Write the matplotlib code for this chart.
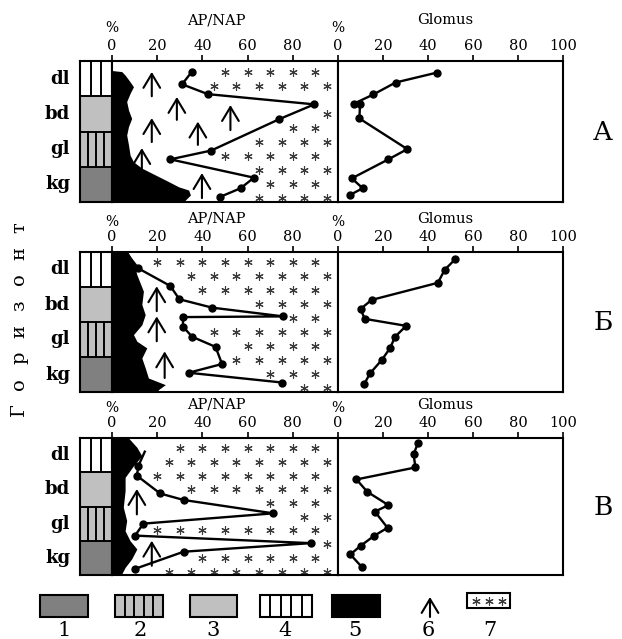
import numpy as np
import matplotlib.pyplot as plt
from matplotlib.patches import Rectangle

plt.rcParams['font.family'] = ['DejaVu Serif']

W, H = 622, 639

horizons = ["dl", "bd", "gl", "kg"]
panel_letters = ["А", "Б", "В"]
ap_ticks = [0, 20, 40, 60, 80]
glomus_ticks = [0, 20, 40, 60, 80, 100]

# panel А
a_ap_depth = [0.30, 0.66, 0.94, 1.23, 1.65, 2.54, 2.79, 3.31, 3.61, 3.85]
a_ap_value = [35.4, 31.0, 42.4, 89.5, 74.0, 43.9, 25.8, 62.8, 56.9, 48.0]
a_glomus_depth = [0.33, 0.61, 0.95, 1.21, 1.22, 1.63, 2.50, 2.79, 3.33, 3.61, 3.80]
a_glomus_value = [43.9, 25.6, 15.7, 7.1, 9.8, 9.5, 30.8, 22.4, 6.1, 11.0, 5.3]
a_black_depth = [0.27, 0.30, 0.40, 0.59, 0.73, 0.92, 1.15, 1.39, 1.63, 1.86, 2.10,
                 2.38, 2.67, 2.86, 3.04, 3.23, 3.42, 3.57, 3.66, 3.80, 3.95, 4.0]
a_black_value = [0.0, 4.3, 5.8, 8.0, 9.5, 8.0, 6.5, 7.3, 8.7, 7.3, 6.5,
                 7.3, 8.0, 9.5, 13.2, 19.1, 25.0, 29.5, 33.9, 34.7, 32.4, 32.0]
a_arrow_x = [17.6, 28.7, 52.4, 17.6, 38.0, 13.2, 39.8]
a_arrow_top = [0.31, 1.02, 1.25, 1.62, 1.72, 2.47, 3.18]
a_arrow_bottom = [1.00, 1.67, 1.96, 2.30, 2.38, 3.15, 3.89]

# panel Б
b_ap_depth = [0.09, 0.47, 0.97, 1.35, 1.59, 1.84, 1.86, 2.13, 2.42, 2.71, 3.20, 3.45, 3.73]
b_ap_value = [7.1, 11.7, 25.8, 29.8, 44.3, 75.8, 31.4, 31.4, 35.4, 45.8, 48.7, 33.9, 75.4]
b_glomus_depth = [0.20, 0.51, 0.88, 1.37, 1.63, 1.91, 2.11, 2.42, 2.75, 3.09, 3.47, 3.77]
b_glomus_value = [52.2, 47.4, 44.4, 14.9, 10.0, 11.9, 30.3, 25.4, 23.1, 19.4, 14.2, 11.7]
b_black_depth = [0.0, 0.03, 0.27, 0.65, 1.12, 1.50, 1.79, 2.08, 2.36, 2.55, 2.74,
                 3.03, 3.31, 3.60, 3.79, 3.93, 4.0]
b_black_value = [7.3, 7.3, 9.5, 11.0, 13.9, 13.2, 14.7, 13.2, 9.5, 11.0, 15.4,
                 13.2, 14.7, 16.1, 23.6, 20.6, 20.0]
b_arrow_x = [19.8, 19.8, 23.3]
b_arrow_top = [0.98, 1.84, 2.84]
b_arrow_bottom = [1.69, 2.55, 3.60]

# panel В
c_ap_depth = [0.40, 0.81, 1.10, 1.62, 1.81, 2.20, 2.50, 2.85, 3.07, 3.32, 3.82]
c_ap_value = [14.5, 11.7, 11.0, 21.3, 31.7, 71.4, 13.9, 10.2, 88.0, 31.7, 10.2]
c_glomus_depth = [0.14, 0.47, 0.86, 1.21, 1.57, 1.96, 2.15, 2.62, 2.86, 3.15, 3.40, 3.76]
c_glomus_value = [35.6, 33.6, 34.4, 8.2, 13.0, 22.4, 16.4, 22.0, 16.0, 10.0, 5.5, 10.5]
c_black_depth = [0.0, 0.27, 0.52, 0.81, 1.15, 1.54, 2.02, 2.41, 2.71, 3.00, 3.24,
                 3.53, 3.78, 3.97, 4.0]
c_black_value = [7.3, 11.0, 13.2, 9.5, 5.8, 5.8, 5.0, 6.5, 5.8, 8.0, 11.0,
                 8.7, 5.8, 4.3, 4.0]
c_arrow_x = [11.0, 17.6]
c_arrow_top = [1.49, 3.00]
c_arrow_bottom = [2.23, 3.73]

panels = [
    dict(ap=(a_ap_depth, a_ap_value), gl=(a_glomus_depth, a_glomus_value),
         black=(a_black_depth, a_black_value),
         arrows=(a_arrow_x, a_arrow_top, a_arrow_bottom), first_marker=0),
    dict(ap=(b_ap_depth, b_ap_value), gl=(b_glomus_depth, b_glomus_value),
         black=(b_black_depth, b_black_value),
         arrows=(b_arrow_x, b_arrow_top, b_arrow_bottom), first_marker=1),
    dict(ap=(c_ap_depth, c_ap_value), gl=(c_glomus_depth, c_glomus_value),
         black=(c_black_depth, c_black_value),
         arrows=(c_arrow_x, c_arrow_top, c_arrow_bottom), first_marker=1),
]

# layout in pixels
TOPS = [61, 252, 438]
BOTS = [202, 392, 575]
TITLE_Y = [20, 219, 405]
PCT_Y = [28, 222, 408]
X_COL, X_AP, X_GL, X_END = 80, 112, 338, 563

DARK, LIGHT = "#808080", "#c0c0c0"
fill = {"dl": "white", "bd": LIGHT, "gl": LIGHT, "kg": DARK}
bars = {"dl": [1 / 3, 2 / 3], "bd": [], "gl": [0.25, 0.5, 0.75], "kg": []}

STAR = dict(ls="none", marker=(6, 2, 0), ms=6, mew=0.8, color="#3a3a3a")
ARROW = dict(arrowstyle="->,head_length=0.5,head_width=0.3", lw=1.5,
             color="black", shrinkA=0, shrinkB=0, mutation_scale=20)


def px_rect(x0, y0, x1, y1):
    return [x0 / W, 1 - y1 / H, (x1 - x0) / W, (y1 - y0) / H]


def frame(ax, lw=1.5):
    for s in ax.spines.values():
        s.set_linewidth(lw)
        s.set_color("black")


def star_field(ax, depth, value):
    depth = np.asarray(depth)
    value = np.asarray(value)
    for i, yy in enumerate(np.arange(0.3, 3.95, 0.4)):
        probe = np.linspace(yy - 0.15, yy + 0.15, 13)
        edge = np.interp(probe, depth, value).max()
        xs = np.arange(0 if i % 2 == 0 else 5, 97, 10).astype(float)
        xs = xs[xs >= edge + 6]
        ax.plot(xs, np.full_like(xs, yy), **STAR)


fig = plt.figure(figsize=(W / 100, H / 100), dpi=100)

for k, p in enumerate(panels):
    top, bot = TOPS[k], BOTS[k]

    # horizon column
    ax_s = fig.add_axes(px_rect(X_COL, top, X_AP, bot))
    ax_s.set_xlim(0, 1)
    ax_s.set_ylim(4, 0)
    for i, h in enumerate(horizons):
        ax_s.axhspan(i, i + 1, color=fill[h], lw=0)
        for f in bars[h]:
            ax_s.plot([f, f], [i, i + 1], color="black", lw=1.4)
        if i:
            ax_s.axhline(i, color="black", lw=1.4)
    ax_s.set_xticks([])
    ax_s.set_yticks([])
    frame(ax_s)

    # AP/NAP
    ax_p = fig.add_axes(px_rect(X_AP, top, X_GL, bot))
    ax_p.set_xlim(0, 100)
    ax_p.set_ylim(4, 0)
    bd, bv = p["black"]
    ax_p.fill_betweenx(bd, 0, bv, color="black", lw=0)
    star_field(ax_p, *p["ap"])
    ax_p.plot(p["ap"][1], p["ap"][0], color="black", lw=1.7,
              marker="o", ms=5, markevery=slice(p["first_marker"], None))
    for x, t, b in zip(*p["arrows"]):
        ax_p.annotate("", xy=(x, t), xytext=(x, b), arrowprops=ARROW)
    ax_p.set_xticks(ap_ticks)
    ax_p.set_yticks([])
    ax_p.xaxis.tick_top()
    ax_p.tick_params(axis="x", direction="out", length=4, width=1.2, pad=1.5,
                     labelsize=10.5)
    frame(ax_p)

    # Glomus
    ax_g = fig.add_axes(px_rect(X_GL, top, X_END, bot))
    ax_g.set_xlim(0, 100)
    ax_g.set_ylim(4, 0)
    ax_g.plot(p["gl"][1], p["gl"][0], color="black", lw=1.7, marker="o", ms=5)
    ax_g.set_xticks(glomus_ticks)
    ax_g.set_yticks([])
    ax_g.xaxis.tick_top()
    ax_g.tick_params(axis="x", direction="out", length=4, width=1.2, pad=1.5,
                     labelsize=10.5)
    frame(ax_g)

# text and legend drawn in pixel coordinates
ov = fig.add_axes([0, 0, 1, 1])
ov.set_xlim(0, W)
ov.set_ylim(H, 0)
ov.axis("off")

for k in range(3):
    top, bot = TOPS[k], BOTS[k]
    step = (bot - top) / 4
    ov.text(216, TITLE_Y[k], "AP/NAP", ha="center", va="center", fontsize=10.5)
    ov.text(445, TITLE_Y[k], "Glomus", ha="center", va="center", fontsize=10.5)
    ov.text(X_AP, PCT_Y[k], "%", ha="center", va="center", fontsize=10)
    ov.text(X_GL, PCT_Y[k], "%", ha="center", va="center", fontsize=10)
    for i, h in enumerate(horizons):
        ov.text(70, top + step * (i + 0.5), h, ha="right", va="center",
                fontsize=13, fontweight="bold")
    ov.text(603, (top + bot) / 2 + 1, panel_letters[k], ha="center", va="center",
            fontsize=19)

# vertical axis caption
word = "Горизонт"
for i, ch in enumerate(word):
    ov.text(19, 410 - i * 26.1, ch, rotation=90, ha="center", va="center",
            fontsize=14)

# legend
ly0, ly1 = 595, 617
legend_boxes = [(40, 88, DARK, 0), (115, 163, LIGHT, 4), (190, 237, LIGHT, 0),
                (260, 312, "white", 4), (332, 380, "black", 0)]
for x0, x1, fc, n in legend_boxes:
    ov.add_patch(Rectangle((x0, ly0), x1 - x0, ly1 - ly0, fc=fc, ec="black", lw=1.5))
    for j in range(1, n + 1):
        xx = x0 + (x1 - x0) * j / (n + 1)
        ov.plot([xx, xx], [ly0, ly1], color="black", lw=1.4)
ov.annotate("", xy=(430, 597), xytext=(430, 617), arrowprops=ARROW)
ov.add_patch(Rectangle((467, 593), 43, 15, fc="white", ec="black", lw=1.5))
ov.plot([476, 489, 502], [600.5, 600.5, 600.5], **STAR)

for num, xc in zip(range(1, 8), [64, 140, 213, 285, 355, 428, 490]):
    ov.text(xc, 621, str(num), ha="center", va="top", fontsize=15)

fig.savefig("out.png", dpi=100)
